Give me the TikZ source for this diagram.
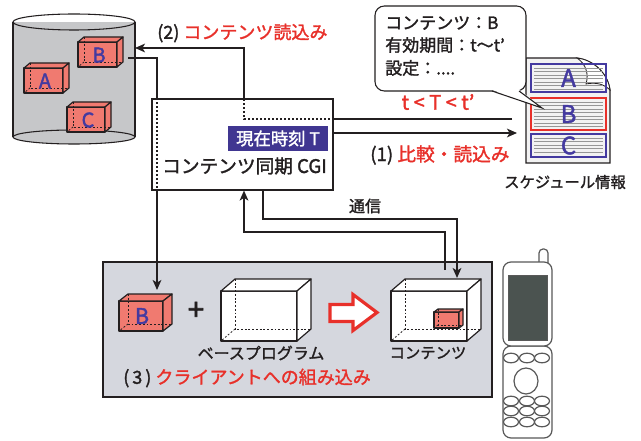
\documentclass[tikz,border=0pt]{standalone}
\usepackage{fontspec}
\setmainfont[FakeBold=1.6]{Noto Sans CJK JP}
\newfontfamily\plusfont[FakeBold=2.5]{Noto Sans CJK JP}
\newfontfamily\letterfont[FakeBold=1.8]{Noto Sans CJK JP}
\usetikzlibrary{arrows.meta,fit,calc}

\definecolor{cylgray}{RGB}{198,199,201}
\definecolor{panelgray}{RGB}{213,215,222}
\definecolor{boxred}{RGB}{240,122,112}
\definecolor{txtred}{RGB}{232,48,42}
\definecolor{labviolet}{RGB}{64,54,145}
\definecolor{letterblue}{RGB}{68,58,160}
\definecolor{screengray}{RGB}{75,83,80}
\definecolor{ink}{RGB}{35,31,32}
\definecolor{pagegray}{RGB}{242,242,242}
\definecolor{rulegray}{RGB}{150,150,150}

% cuboid: front face top-left (#1,#2), size #3 x #4, depth offset (#5 right, #6 up), fill #7
\newcommand{\solidcube}[7]{%
  \filldraw[cubeline, fill=#7] (#1,#2) rectangle ({#1+#3},{#2+#4});
  \filldraw[cubeline, fill=#7] (#1,#2) -- ({#1+#5},{#2-#6}) -- ({#1+#3+#5},{#2-#6}) -- ({#1+#3},#2) -- cycle;
  \filldraw[cubeline, fill=#7] ({#1+#3},#2) -- ({#1+#3+#5},{#2-#6}) -- ({#1+#3+#5},{#2+#4-#6}) -- ({#1+#3},{#2+#4}) -- cycle;
  \draw[hidden] ({#1+#5},{#2-#6}) -- ({#1+#5},{#2+#4-#6}) -- ({#1+#3+#5},{#2+#4-#6});
  \draw[hidden] ({#1+#5},{#2+#4-#6}) -- (#1,{#2+#4});
}

\tikzset{
  cubeline/.style={draw=ink, line width=0.9pt, line join=round},
  hidden/.style={draw=ink, line width=0.6pt, dash pattern=on 1.4pt off 1.4pt},
  conn/.style={draw=ink, line width=1.5pt},
  inside/.style={draw=ink, line width=1.5pt, dash pattern=on 1.5pt off 1.5pt},
  arrowed/.style={-{Stealth[length=7.5pt,width=6.5pt,inset=2pt]}},
  entry/.style={line width=1.5pt},
  phone/.style={draw=gray!70!black, line width=0.9pt, fill=white},
  biglbl/.style={font=\fontsize{13.5}{16}\selectfont, text=ink, inner sep=0},
  midlbl/.style={font=\fontsize{12}{14}\selectfont, text=ink, inner sep=0},
  boxletter/.style={font=\letterfont\fontsize{15}{17}\selectfont, text=letterblue, inner sep=0},
  sheetletter/.style={font=\letterfont\fontsize{18}{20}\selectfont, text=letterblue, inner sep=0},
}

\begin{document}
\begin{tikzpicture}[x=0.75pt, y=-0.75pt]
\useasboundingbox (0,0) rectangle (641,441);
\fill[white] (0,0) rectangle (641,441);

% ---------- content store (cylinder) ----------
\fill[cylgray] (13,22) rectangle (135,137);
\fill[cylgray] (74,137) ellipse [x radius=61, y radius=7];
\draw[ink, line width=0.8pt] (13,22) -- (13,137) (135,22) -- (135,137);
\draw[ink, line width=0.8pt] (74,22) ellipse [x radius=61, y radius=8];
\draw[ink, line width=0.8pt] (74,137) ellipse [x radius=61, y radius=7];

\solidcube{78}{42}{39}{25}{6}{5}{boxred}
\solidcube{24}{68}{39}{25}{6}{5}{boxred}
\solidcube{67}{107}{38}{25}{6}{5}{boxred}
\node[boxletter] (storeB) at (99,55) {B};
\node[boxletter] (storeA) at (45,81) {A};
\node[boxletter] (storeC) at (88,120) {C};

% ---------- CGI box ----------
\node[fit={(152,99) (333,190)}, inner sep=0, draw=ink, line width=0.8pt, fill=white] (cgi) {};
\node[fit={(228,126) (328,151)}, inner sep=0, fill=labviolet] (clockbg) {};
\node[font=\fontsize{13}{15}\selectfont, text=white, inner sep=0] (clock) at (clockbg.center) {現在時刻 T};
\node[font=\fontsize{14}{16}\selectfont, text=ink, inner sep=0] (cginame) at (244.5,166) {コンテンツ同期 CGI};

% ---------- schedule sheet ----------
\filldraw[fill=pagegray, draw=ink, line width=0.8pt]
  (526,58) -- (577,58) .. controls (594,60) and (608,74) .. (610,90) -- (610,163) -- (526,163) -- cycle;
\filldraw[fill=white, draw=ink, line width=0.6pt]
  (577,58) .. controls (586,64) and (589,74) .. (586,84) .. controls (596,82) and (604,84) .. (610,90)
  .. controls (608,74) and (594,60) .. (577,58) -- cycle;
\foreach \yy in {68,71.5,...,90} \draw[rulegray, line width=0.5pt] (534,\yy) -- (603,\yy);
\foreach \yy in {102,105.5,...,127} \draw[rulegray, line width=0.5pt] (534,\yy) -- (603,\yy);
\foreach \yy in {138,141.5,...,155} \draw[rulegray, line width=0.5pt] (534,\yy) -- (603,\yy);
\node[fit={(531,64) (606,92)}, inner sep=0, draw=letterblue, entry] (entA) {};
\node[fit={(531,98) (606,130)}, inner sep=0, draw=txtred, entry] (entB) {};
\node[fit={(531,134) (606,157)}, inner sep=0, draw=letterblue, entry] (entC) {};
\node[sheetletter] at (entA.center) {A};
\node[sheetletter] at (entB.center) {B};
\node[sheetletter] at (entC.center) {C};
\node[font=\fontsize{11.5}{14}\selectfont, text=ink, inner sep=0] (schedname) at (565,182) {スケジュール情報};

% ---------- speech bubble ----------
\draw[ink, line width=0.8pt, fill=white, rounded corners=7pt] (375,6) rectangle (526,91);
\fill[white] (491,89.5) -- (519,89.5) -- (542,108) -- cycle;
\draw[ink, line width=0.8pt, line join=miter] (492,91) -- (542,108) -- (519,91);
\node[anchor=west, font=\fontsize{12.75}{15}\selectfont, text=ink, inner sep=0] (bub1) at (385,23) {コンテンツ：B};
\node[anchor=west, font=\fontsize{12.75}{15}\selectfont, text=ink, inner sep=0] (bub2) at (385,45) {有効期間：t〜t’};
\node[anchor=west, font=\fontsize{12.75}{15}\selectfont, text=ink, inner sep=0] (bub3) at (385,68) {設定：....};

% ---------- client panel ----------
\node[fit={(103,262) (492,397)}, inner sep=0, draw=ink, line width=2pt, fill=panelgray] (client) {};
\solidcube{119}{301}{44}{30}{9}{7}{boxred}
\node[font=\letterfont\fontsize{16}{18}\selectfont, text=letterblue, inner sep=0] (clientBlbl) at (142,316) {B};
\node[font=\fontsize{22}{24}\selectfont\plusfont, text=ink, inner sep=0] (plus) at (196,311) {+};
\solidcube{221}{291}{76}{50}{14}{12}{white}
\node[midlbl] (baselbl) at (261,353) {ベースプログラム};
\filldraw[draw=txtred, fill=white, line width=2.4pt, line join=miter]
  (330,304.5) -- (353,304.5) -- (353,294.5) -- (377,312.5) -- (353,330.5) -- (353,321.5) -- (330,321.5) -- cycle;
\solidcube{391}{291}{76}{50}{14}{12}{white}
\solidcube{434}{312}{25}{16}{4}{3}{boxred}
\node[font=\fontsize{11.5}{14}\selectfont, text=ink, inner sep=0] (contlbl) at (428,353) {コンテンツ};
\node[anchor=west, biglbl] (lab3) at (123,378) {(\,3\,) \textcolor{txtred}{クライアントへの組み込み}};

% ---------- connectors ----------
\coordinate (cylB) at (128,58);
\coordinate (readX) at (157,0);
\coordinate (clientB) at (157,290);
\draw[conn] (cylB) -| (cgi.north -| readX);
\draw[inside] (cgi.north -| readX) -- (cgi.south -| readX);
\draw[conn, arrowed] (cgi.south -| readX) -- (clientB);

\coordinate (schedIn) at (512,119);
\coordinate (loadX) at (244,0);
\coordinate (cylIn) at (135,48);
\draw[conn] (schedIn) -- (cgi.east |- schedIn);
\draw[inside] (cgi.east |- schedIn) -| (cgi.north -| loadX);
\draw[conn, arrowed] (cgi.north -| loadX) |- (cylIn);

\coordinate (schedArr) at (517,133);
\draw[conn, arrowed] (cgi.east |- schedArr) -- (schedArr);

\coordinate (commA) at (457,219);
\coordinate (contentTop) at (457,278);
\coordinate (commDownX) at (263,0);
\draw[conn, arrowed] (cgi.south -| commDownX) |- (commA) -- (contentTop);
\coordinate (commUp) at (445,270);
\coordinate (commB) at (244,232);
\draw[conn, arrowed] (commUp) |- (commB) -- (cgi.south -| commB);

% ---------- connector labels ----------
\node[anchor=west, biglbl] (lab2) at (157,33) {(2) \textcolor{txtred}{コンテンツ読込み}};
\node[font=\fontsize{15}{17}\selectfont, text=txtred, inner sep=0] (cond) at (438,102) {t < T < t’};
\node[anchor=west, font=\fontsize{14}{16}\selectfont, text=ink, inner sep=0] (lab1) at (370,155) {(1) \textcolor{txtred}{比較・読込み}};
\node[midlbl] (commlbl) at (365,206) {通信};

% ---------- handset ----------
\draw[phone, rounded corners=3pt] (539,249) rectangle (548,268);
\draw[phone, rounded corners=6pt] (503,346) rectangle (552,438);
\draw[phone, rounded corners=6pt] (503,262) rectangle (552,346);
\draw[draw=gray!70!black, fill=screengray, line width=0.6pt] (508,275) rectangle (547,340);
\foreach \yy in {358,401,411,422}
  \foreach \xx in {511,527,542}
    \draw[phone] (\xx,\yy) ellipse [x radius=7.5, y radius=4.8];
\draw[phone] (526,381) ellipse [x radius=12, y radius=13];
\end{tikzpicture}
\end{document}
